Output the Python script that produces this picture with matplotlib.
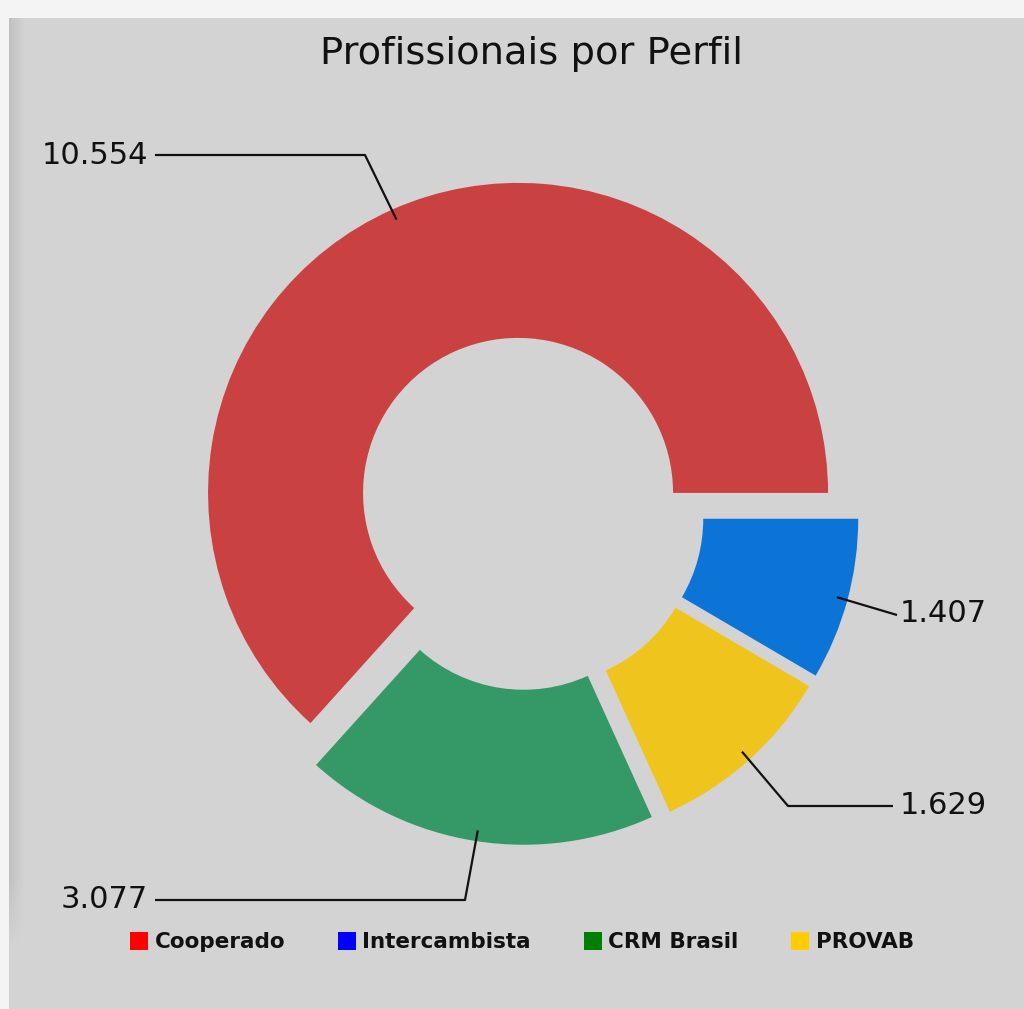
import matplotlib
matplotlib.use("Agg")
import matplotlib.pyplot as plt
from matplotlib.patches import Rectangle, Patch
import numpy as np

# ---- data ----
categories = ["Cooperado", "CRM Brasil", "PROVAB", "Intercambista"]
values = [10554, 3077, 1629, 1407]
value_labels = ["10.554", "3.077", "1.629", "1.407"]
slice_colors = ["#c94141", "#349966", "#efc41c", "#0b74d6"]
legend_order = ["Cooperado", "Intercambista", "CRM Brasil", "PROVAB"]
legend_colors = {"Cooperado": "#ff0000", "Intercambista": "#0000ff",
                 "CRM Brasil": "#008000", "PROVAB": "#ffcc00"}
title = "Profissionais por Perfil"

W, H = 1024, 1009
fig = plt.figure(figsize=(W / 100, H / 100), dpi=100)
fig.patch.set_facecolor("#f4f4f4")

def py(y):  # pixel-from-top -> data y
    return H - y

ax = fig.add_axes([0, 0, 1, 1])
ax.set_xlim(0, W)
ax.set_ylim(0, H)
ax.axis("off")

# panel background
ax.add_patch(Rectangle((9, 0), W - 9, H - 18, facecolor="#d3d3d3", edgecolor="none", zorder=0))
# left shadow gradient
nx = 18
xs_g = np.linspace(0, 1, nx)
ys_g = np.linspace(0, 1, 200)
gx = (1 - xs_g) ** 1.3
ypix = 18 + ys_g * (960 - 18)
gy = np.clip((950 - ypix) / 70, 0, 1)
alpha = np.outer(gy, gx) * 0.09
img = np.zeros((200, nx, 4))
img[..., 3] = alpha
ax.imshow(img, extent=(9, 9 + nx, py(960), py(18)), origin="upper",
          aspect="auto", zorder=0.5, interpolation="bilinear")

cx, cy, R = 527, py(513), 310
wedges, _ = ax.pie(values, colors=slice_colors, startangle=0, counterclock=True,
                   radius=R, center=(cx, cy), explode=[22] * len(values),
                   wedgeprops=dict(width=R * 0.5, linewidth=0))
ax.set_xlim(0, W)
ax.set_ylim(0, H)
ax.set_aspect("auto")

# label layout: (elbow point or None, line end, text pos, ha)
layout = {
    "Cooperado": ((365, py(155)), (155, py(155)), (148, py(156)), "right"),
    "CRM Brasil": ((465, py(900)), (155, py(900)), (148, py(900)), "right"),
    "PROVAB": ((788, py(806)), (893, py(806)), (900, py(805)), "left"),
    "Intercambista": (None, (897, py(615)), (900, py(613)), "left"),
}
for w, cat, lab in zip(wedges, categories, value_labels):
    th = np.deg2rad((w.theta1 + w.theta2) / 2)
    x0, y0 = w.center
    ax0 = x0 + 0.965 * R * np.cos(th)
    ay0 = y0 + 0.965 * R * np.sin(th)
    elbow, end, tpos, ha = layout[cat]
    xs = [ax0] + ([elbow[0]] if elbow else []) + [end[0]]
    ys = [ay0] + ([elbow[1]] if elbow else []) + [end[1]]
    ax.plot(xs, ys, color="#111111", lw=1.6, zorder=5, solid_capstyle="butt")
    ax.text(tpos[0], tpos[1], lab, ha=ha, va="center", fontsize=22,
            color="#111111", zorder=6)

ax.text(531, py(64), title, ha="center", va="baseline", fontsize=27.7, color="#111111")

handles = [Patch(facecolor=legend_colors[c], edgecolor="none", label=c) for c in legend_order]
leg = fig.legend(handles=handles, loc="center", bbox_to_anchor=(522 / W, 1 - 942 / H),
                 ncol=4, frameon=False, handlelength=0.84, handleheight=0.95,
                 handletextpad=0.3, columnspacing=2.45,
                 prop=dict(weight="bold", size=15.5))
for t in leg.get_texts():
    t.set_color("#111111")

fig.savefig("out.png", dpi=100, facecolor=fig.get_facecolor())
